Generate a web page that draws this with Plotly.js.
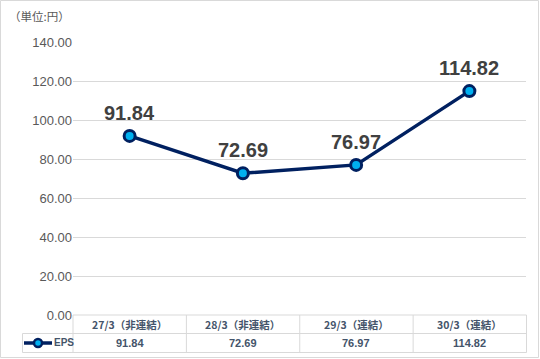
<!DOCTYPE html>
<html>
<head>
<meta charset="utf-8">
<script src="https://cdn.plot.ly/plotly-3.0.1.min.js"></script>
<style>html,body{margin:0;padding:0;background:#fff;}#chart{width:540px;height:359px;}</style>
</head>
<body>
<div id="chart"></div>
<script>
const categories = ["27/3（非連結）", "28/3（非連結）", "29/3（連結）", "30/3（連結）"];
const epsValues = [91.84, 72.69, 76.97, 114.82];
const seriesName = "EPS";
const unitLabel = "（単位:円）";

const W = 540, H = 359;
const L = 73, R = 14, T = 42, B = 44;
const PW = W - L - R, PH = H - T - B;
const px = v => (v - L) / PW;
const py = v => (H - B - v) / PH;

const NAVY = "#002060", CYAN = "#00B0F0", GRID = "#D9D9D9", TXT = "#595959", TBL = "#44546A";

const shapes = [];
const line = (x0, y0, x1, y1, color, width) => shapes.push({type: "line", xref: "paper", yref: "paper",
  x0: px(x0), y0: py(y0), x1: px(x1), y1: py(y1), line: {color: color, width: width}});

// outer frame
shapes.push({type: "rect", xref: "paper", yref: "paper", x0: px(0.5), y0: py(0.5), x1: px(538.5), y1: py(357.5),
  line: {color: GRID, width: 1}, fillcolor: "rgba(0,0,0,0)"});
// data table grid
const tTop = 315, tMid = 333.5, tBot = 352.5, tLeft = 22.5, tRight = 526.5;
line(L, tTop, tRight, tTop, GRID, 1);
line(tLeft, tMid, tRight, tMid, GRID, 1);
line(tLeft, tBot, tRight, tBot, GRID, 1);
line(tLeft, tMid, tLeft, tBot, GRID, 1);
const colW = (tRight - L) / categories.length;
for (let i = 0; i <= categories.length; i++) line(L + i * colW, tTop, L + i * colW, tBot, GRID, 1);
// legend key
line(24, 343, 52, 343, NAVY, 3.5);
shapes.push({type: "circle", xref: "paper", yref: "paper", x0: px(34), y0: py(339), x1: px(42), y1: py(347),
  line: {color: NAVY, width: 2.5}, fillcolor: CYAN});

const annotations = [];
annotations.push({xref: "paper", yref: "paper", x: px(7), y: py(16), xanchor: "left", yanchor: "middle",
  text: unitLabel, showarrow: false, font: {family: "Noto Sans CJK JP", size: 11.5, color: TXT}});
annotations.push({xref: "paper", yref: "paper", x: px(52), y: py(342), xanchor: "left", yanchor: "middle",
  text: "<b>" + seriesName + "</b>", showarrow: false, font: {family: "Liberation Sans", size: 10, color: TBL}});
categories.forEach((c, i) => {
  annotations.push({xref: "x", yref: "paper", x: c, y: py(324), xanchor: "center", yanchor: "middle",
    text: "<b>" + c + "</b>", showarrow: false, font: {family: "Noto Sans CJK JP", size: 10.5, color: TBL}});
  annotations.push({xref: "x", yref: "paper", x: c, y: py(343), xanchor: "center", yanchor: "middle",
    text: "<b>" + epsValues[i].toFixed(2) + "</b>", showarrow: false, font: {family: "Liberation Sans", size: 11, color: TBL}});
  // data label above each point
  annotations.push({xref: "x", yref: "y", x: c, y: epsValues[i], yshift: 23, xanchor: "center", yanchor: "middle",
    text: "<b>" + epsValues[i].toFixed(2) + "</b>", showarrow: false,
    font: {family: "Liberation Sans", size: 20, color: "#404040"}});
});

const trace = {
  type: "scatter", mode: "lines+markers", name: seriesName,
  x: categories, y: epsValues,
  line: {color: NAVY, width: 3.5},
  marker: {symbol: "circle", size: 11, color: CYAN, line: {color: NAVY, width: 3}},
  cliponaxis: false, hoverinfo: "skip"
};

const layout = {
  width: W, height: H,
  margin: {l: L, r: R, t: T, b: B, pad: 0},
  paper_bgcolor: "#fff", plot_bgcolor: "#fff",
  showlegend: false,
  xaxis: {type: "category", showgrid: false, showline: false, zeroline: false, showticklabels: false, ticks: "", range: [-0.5, 3.5]},
  yaxis: {range: [0, 140], dtick: 20, tickformat: ".2f", showgrid: true, gridcolor: GRID, gridwidth: 1,
    zeroline: false, showline: false, ticks: "", ticklen: 0,
    tickfont: {family: "Liberation Sans", size: 13, color: TXT}, automargin: false},
  shapes: shapes, annotations: annotations
};
Plotly.newPlot("chart", [trace], layout, {staticPlot: true, displayModeBar: false});
</script>
</body>
</html>
